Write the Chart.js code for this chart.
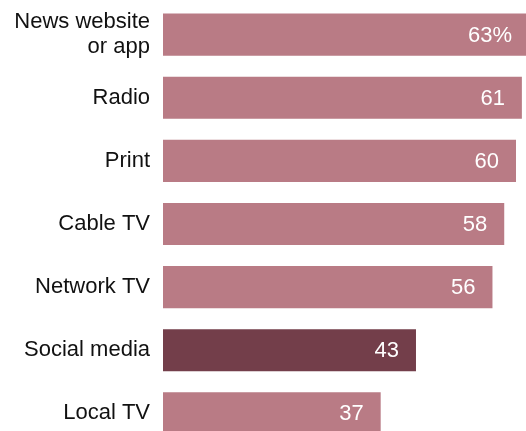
<!DOCTYPE html>
<html>
<head>
<meta charset="utf-8">
<script src="https://cdn.jsdelivr.net/npm/chart.js@4"></script>
<style>
  html, body { margin: 0; padding: 0; background: #fff; overflow: hidden; }
  canvas { display: block; }
</style>
</head>
<body>
<canvas id="trustChart" width="526" height="445"></canvas>
<script>
  const categories = [['News website', 'or app'], 'Radio', 'Print', 'Cable TV', 'Network TV', 'Social media', 'Local TV'];
  const values = [63, 61, 60, 58, 56, 43, 37];
  const valueLabels = ['63%', '61', '60', '58', '56', '43', '37'];
  const highlighted = 'Social media';

  const barColor = '#b97b85';
  const highlightColor = '#733e4a';
  const colors = categories.map(c => c === highlighted ? highlightColor : barColor);

  // white value text sitting inside the right end of each bar
  const insideLabels = {
    id: 'insideLabels',
    afterDatasetsDraw(chart) {
      const ctx = chart.ctx;
      const area = chart.chartArea;
      const meta = chart.getDatasetMeta(0);
      ctx.save();
      ctx.font = '22px "Liberation Sans", Arial, sans-serif';
      ctx.fillStyle = '#ffffff';
      ctx.textAlign = 'right';
      ctx.textBaseline = 'middle';
      meta.data.forEach((bar, i) => {
        const x = Math.min(bar.x - 17, area.right - 14);
        ctx.fillText(valueLabels[i], x, bar.y + 1);
      });
      ctx.restore();
    }
  };

  const ctx = document.getElementById('trustChart').getContext('2d');
  new Chart(ctx, {
    type: 'bar',
    data: {
      labels: categories,
      datasets: [{
        data: values,
        backgroundColor: colors,
        borderWidth: 0,
        categoryPercentage: 1,
        barPercentage: 0.667
      }]
    },
    plugins: [insideLabels],
    options: {
      indexAxis: 'y',
      responsive: false,
      animation: false,
      layout: { padding: { top: 3, right: 0, bottom: 0, left: 0 } },
      plugins: {
        legend: { display: false },
        tooltip: { enabled: false }
      },
      scales: {
        x: {
          display: false,
          min: 0,
          max: 61.7
        },
        y: {
          grid: { display: false, drawTicks: false },
          border: { display: false },
          ticks: {
            padding: 13,
            color: '#111111',
            font: { family: '"Liberation Sans", Arial, sans-serif', size: 22, lineHeight: 1.15 }
          },
          afterFit(scale) {
            scale.width = 163;
            scale.paddingTop = 0;
            scale.paddingBottom = 0;
          }
        }
      }
    }
  });
</script>
</body>
</html>
